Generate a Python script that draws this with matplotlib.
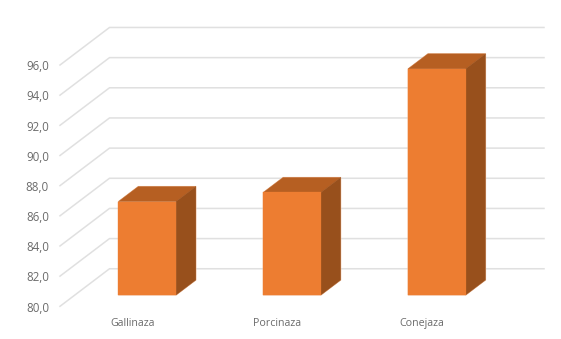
import matplotlib
matplotlib.use("Agg")
import matplotlib.pyplot as plt
from matplotlib.patches import Polygon

categories = ["Gallinaza", "Porcinaza", "Conejaza"]
values = [86.2, 86.8, 95.0]
ticks = [80, 82, 84, 86, 88, 90, 92, 94, 96]

# oblique projection: how far a point shifts per unit of depth
DEPTH_X = 0.3418
DEPTH_Y = 2.49
BAR_WIDTH = 0.398
BAR_FRONT = 0.30
BAR_BACK = 0.70
BASE = 80.0

FRONT_COLOR = "#ED7D31"
TOP_COLOR = "#B65F22"
SIDE_COLOR = "#98501C"
EDGE_COLOR = "#F3C4A4"
GRID_COLOR = "#E0E0E0"
TEXT_COLOR = "#6B6B6B"

plt.rcParams["font.family"] = ["Open Sans", "DejaVu Sans"]


def project(x, v, d):
    """Map a category position, value and depth to flat axes coordinates."""
    return (x + d * DEPTH_X, v + d * DEPTH_Y)


def draw_bar(ax, center, value):
    left = center - BAR_WIDTH / 2
    right = center + BAR_WIDTH / 2
    # faint outline around the whole box, visible only on its outer edge
    outline = [(left, BASE, BAR_FRONT), (left, value, BAR_FRONT), (left, value, BAR_BACK),
               (right, value, BAR_BACK), (right, BASE, BAR_BACK), (right, BASE, BAR_FRONT)]
    ax.add_patch(Polygon([project(*p) for p in outline], closed=True,
                         facecolor=EDGE_COLOR, edgecolor=EDGE_COLOR, linewidth=0.8, zorder=2))
    faces = [
        ([(left, value, BAR_FRONT), (left, value, BAR_BACK),
          (right, value, BAR_BACK), (right, value, BAR_FRONT)], TOP_COLOR),
        ([(right, BASE, BAR_FRONT), (right, value, BAR_FRONT), (right, value, BAR_BACK),
          (right, BASE, BAR_BACK)], SIDE_COLOR),
        ([(left, BASE, BAR_FRONT), (left, value, BAR_FRONT), (right, value, BAR_FRONT),
          (right, BASE, BAR_FRONT)], FRONT_COLOR),
    ]
    for points, color in faces:
        ax.add_patch(Polygon([project(*p) for p in points], closed=True,
                             facecolor=color, edgecolor=color, linewidth=0.2, zorder=3))


fig = plt.figure(figsize=(5.61, 3.39), dpi=100, facecolor="white")
ax = fig.add_axes([0, 0, 1, 1])
ax.set_xlim(-60 / 144.83, (561 - 60) / 144.83)
ax.set_ylim(80 - 32.7 / 15.08, 80 + 306.3 / 15.08)
ax.axis("off")

# gridlines run up the side wall and then across the back wall
for tick in ticks:
    pts = [project(0, tick, 0), project(0, tick, 1), project(3, tick, 1)]
    ax.plot([p[0] for p in pts], [p[1] for p in pts], color=GRID_COLOR,
            linewidth=1.1, solid_joinstyle="miter", zorder=1)
    ax.text(-11 / 144.83, tick - 0.12, f"{tick:.1f}".replace(".", ","), ha="right", va="center",
            fontsize=8.3, color=TEXT_COLOR)

for i, (name, value) in enumerate(zip(categories, values)):
    draw_bar(ax, i + 0.5, value)
    ax.text(i + 0.5, 78.87, name, ha="center", va="center", fontsize=7.7, color=TEXT_COLOR)

fig.savefig("out.png", dpi=100)
plt.close(fig)
